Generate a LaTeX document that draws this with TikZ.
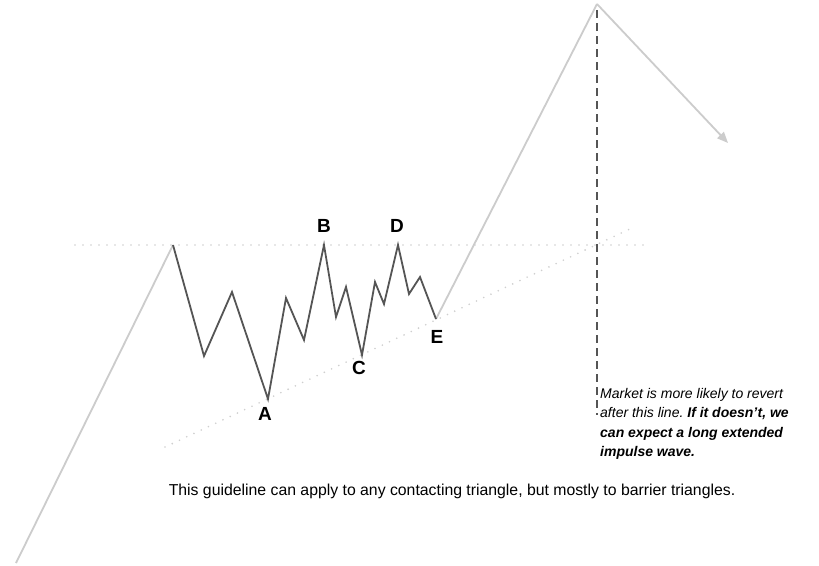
\documentclass[tikz,border=0pt]{standalone}
\usepackage{fontspec}
\setmainfont{Liberation Sans}
\usetikzlibrary{arrows.meta}
\definecolor{lightline}{HTML}{CCCCCC}
\definecolor{darkline}{HTML}{555555}
\definecolor{dotline}{HTML}{CFCFCF}
\frenchspacing
\begin{document}
\begin{tikzpicture}[x=1pt,y=-1pt,
  lightwave/.style={draw=lightline,line width=1.8pt,line join=miter},
  darkwave/.style={draw=darkline,line width=1.8pt,line join=miter},
  guide/.style={draw=dotline,line width=1.8pt,line cap=round,dash pattern=on 0pt off 8pt},
  cutline/.style={draw=darkline,line width=2pt,dash pattern=on 8pt off 5pt},
  ptlabel/.style={font=\fontsize{19}{22}\selectfont\bfseries,inner sep=0pt,text=black},
  note/.style={inner sep=0pt,text=black}]
\useasboundingbox (0,0) rectangle (819,565);
\fill[white] (0,0) rectangle (819,565);
% guide lines
\coordinate (h1) at (75,245);
\coordinate (h2) at (646,245);
\coordinate (d1) at (165,447);
\coordinate (d2) at (632,228);
\draw[guide] (h1) -- (h2);
\draw[guide] (d1) -- (d2);
% key points
\coordinate (start) at (16,563);
\coordinate (top0) at (173,245);
\coordinate (pA) at (268,399);
\coordinate (pB) at (324,245);
\coordinate (pC) at (362,355);
\coordinate (pD) at (398,245);
\coordinate (pE) at (436,319);
\coordinate (apex) at (597,4);
\coordinate (tip) at (728,143);
\coordinate (cutend) at (597,415);
% vertical cut line
\draw[cutline] (597,10) -- (cutend);
% light impulse lines
\draw[lightwave] (start) -- (top0);
\draw[lightwave] (pE) -- (apex);
\draw[lightwave,-{Triangle[length=11pt,width=9pt]}] (apex) -- (tip);
% triangle wave
\draw[darkwave] (top0) -- (204,356) -- (232,292) -- (pA) -- (286,298) -- (304,340)
  -- (pB) -- (336,317) -- (346,287) -- (pC) -- (375,282) -- (384,304) -- (pD)
  -- (409,294) -- (420,277) -- (pE);
% labels
\node[ptlabel] (lA) at (265,414) {A};
\node[ptlabel] (lB) at (324,226) {B};
\node[ptlabel] (lC) at (359,368) {C};
\node[ptlabel] (lD) at (397,226) {D};
\node[ptlabel] (lE) at (437,337) {E};
% notes
\node[note,anchor=base west] (market) at (600,398)
  {\fontsize{14}{19.5}\selectfont\itshape
   \begin{tabular}[t]{@{}l@{}}
   Market is more likely to revert\\
   after this line. \textbf{If it doesn’t, we}\\
   \textbf{can expect a long extended}\\
   \textbf{impulse wave.}
   \end{tabular}};
\node[note,anchor=base] (guideline) at (452,495)
  {\fontsize{15.8}{19}\selectfont This guideline can apply to any contacting triangle, but mostly to barrier triangles.};
\end{tikzpicture}
\end{document}
